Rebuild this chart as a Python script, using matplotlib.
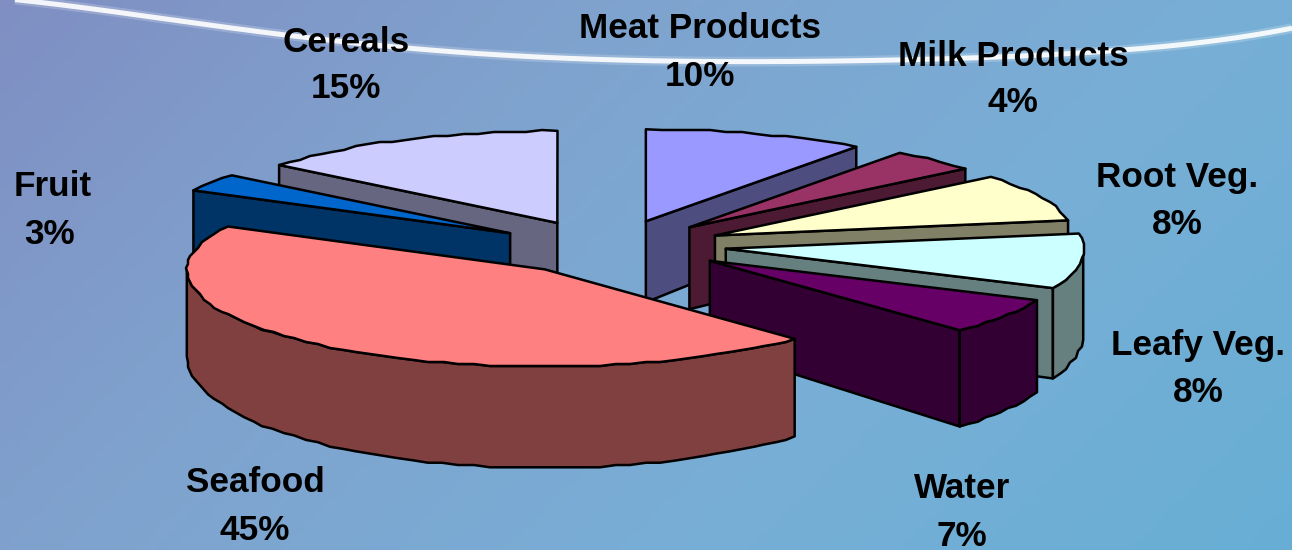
#!/usr/bin/env python3

import numpy as np
import matplotlib
matplotlib.use('Agg')
import matplotlib.pyplot as plt
from matplotlib.colors import LinearSegmentedColormap
from matplotlib.patches import Polygon

# clockwise from 12 o'clock
categories = ['Meat Products', 'Milk Products', 'Root Veg.', 'Leafy Veg.',
              'Water', 'Seafood', 'Fruit', 'Cereals']
values = [10, 4, 8, 8, 7, 45, 3, 15]
top_colors = ['#9999FF', '#993366', '#FFFFCC', '#CCFFFF',
              '#660066', '#FF8080', '#0066CC', '#CCCCFF']
side_colors = ['#4D4D80', '#4D1A33', '#808066', '#668080',
               '#330033', '#804040', '#003366', '#666680']
label_x = [700, 1013, 1177, 1198, 962, 255, 53, 346]
label_y = [29, 56, 178, 345, 489, 483, 187, 42]
draw_order = [0, 7, 1, 6, 2, 3, 4, 5]

# white swoosh across the top
swoosh_x = [15, 41, 124, 207, 282, 415, 539, 650, 765, 889, 1010, 1126, 1222, 1292]
swoosh_y = [0, 2, 13, 25, 35, 48, 57, 61, 62, 60, 56, 50, 40, 28]

# pie geometry, in pixels
cx, cy = 610, 247
rx, ry_back, ry_front = 358, 92, 97
explode_x, explode_y = 0.324, 0.294


def depth(y):
    # a bit of perspective, the front wall is taller than the back one
    return 81 + (y - 221) * 0.14


def warp(theta):
    # the original's 3D view squeezes the angles on both sides
    deg = np.degrees(theta)
    return theta + np.radians(6) * np.exp(-((deg - 110) / 25) ** 2) \
        + np.radians(3) * np.exp(-((deg - 305) / 25) ** 2)


def rim(theta, ax0, ay0):
    t = warp(theta)
    c = np.cos(t)
    return ax0 + rx * np.sin(t), ay0 - np.where(c < 0, ry_front, ry_back) * c


def rough_rim(t0, t1, ax0, ay0):
    # short facets snapped to a grid, the outer edge is wobbly in the original
    n = max(int(np.degrees(t1 - t0) / 2.5), 2) + 1
    xs, ys = rim(np.linspace(t0, t1, n), ax0, ay0)
    xs[1:-1] = np.round(xs[1:-1] / 2) * 2
    ys[1:-1] = np.round(ys[1:-1] / 2) * 2
    return xs, ys


def extrude(xs, ys):
    xs, ys = np.asarray(xs), np.asarray(ys)
    top = np.column_stack([xs, ys])
    bot = np.column_stack([xs, ys + depth(ys)])[::-1]
    return np.vstack([top, bot])


fig = plt.figure(figsize=(12.92, 5.5), dpi=100)
ax = fig.add_axes([0, 0, 1, 1])
ax.set_xlim(0, 1292)
ax.set_ylim(550, 0)
ax.axis('off')

# background gradient, purple-ish at top left to teal at bottom right
bg_cmap = LinearSegmentedColormap.from_list('bg', ['#7F8FC3', '#7FA3CE', '#78AED6', '#68AED4'])
gx, gy = np.meshgrid(np.linspace(0, 1, 200), np.linspace(0, 1, 100))
ax.imshow(gx * 0.7 + gy * 0.3, cmap=bg_cmap, extent=[0, 1292, 550, 0], aspect='auto', zorder=0)

coef = np.polyfit(swoosh_x, swoosh_y, 5)
sw_x = np.linspace(swoosh_x[0], swoosh_x[-1], 300)
sw_y = np.polyval(coef, sw_x)
ax.plot(sw_x, sw_y, color='white', lw=7, alpha=0.2, zorder=1, solid_capstyle='butt')
ax.plot(sw_x, sw_y, color='white', lw=3.6, alpha=0.9, zorder=1, solid_capstyle='butt')

edges = np.cumsum([0] + values) / sum(values) * 2 * np.pi
z = 2
for i in draw_order:
    t0, t1 = edges[i], edges[i + 1]
    mid = (t0 + t1) / 2
    ax0 = cx + explode_x * rx * np.sin(mid)
    ay0 = cy - explode_y * ry_back * np.cos(mid)
    face = dict(edgecolor='black', linewidth=1.8, joinstyle='round')

    # cut faces that look toward the viewer
    for t, show in ((t1, np.sin(t1) > 0), (t0, np.sin(t0) < 0)):
        if show:
            ex, ey = rim(t, ax0, ay0)
            ax.add_patch(Polygon(extrude([ax0, ex], [ay0, ey]), facecolor=side_colors[i], zorder=z, **face))

    # outer wall, only the front half of the circle shows
    lo, hi = max(t0, np.pi / 2), min(t1, 3 * np.pi / 2)
    if hi > lo:
        wx, wy = rough_rim(lo, hi, ax0, ay0)
        ax.add_patch(Polygon(extrude(wx, wy), facecolor=side_colors[i], zorder=z, **face))

    # top of the slice
    tx, ty = rough_rim(t0, t1, ax0, ay0)
    top = np.column_stack([np.r_[ax0, tx], np.r_[ay0, ty]])
    ax.add_patch(Polygon(top, facecolor=top_colors[i], zorder=z, **face))
    z += 1

for name, val, lx, ly in zip(categories, values, label_x, label_y):
    ax.text(lx, ly, name, ha='center', va='center', family='Liberation Sans',
            fontweight='bold', fontsize=25.3, color='black', zorder=30)
    ax.text(lx - 3 if name == 'Fruit' else lx, ly + 47, f'{val}%', ha='center', va='center',
            family='Liberation Sans', fontweight='bold', fontsize=25.3, color='black', zorder=30)

fig.savefig('out.png', dpi=100)
